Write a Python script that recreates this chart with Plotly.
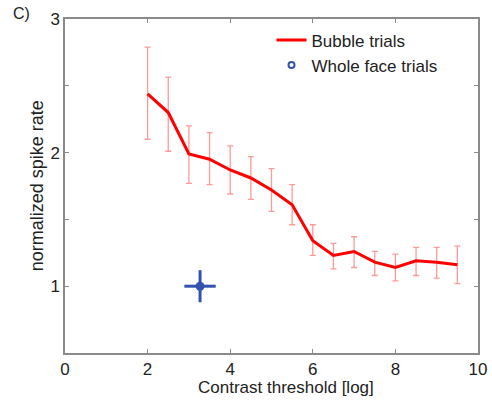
import plotly.graph_objects as go

contrast = [2, 2.5, 3, 3.5, 4, 4.5, 5, 5.5, 6, 6.5, 7, 7.5, 8, 8.5, 9, 9.5]
rate = [2.44, 2.30, 1.99, 1.95, 1.87, 1.81, 1.72, 1.61, 1.34, 1.23, 1.26, 1.18, 1.14, 1.19, 1.18, 1.16]
err_hi = [2.79, 2.565, 2.20, 2.15, 2.05, 1.97, 1.88, 1.76, 1.46, 1.32, 1.37, 1.26, 1.24, 1.29, 1.29, 1.30]
err_lo = [2.10, 2.01, 1.77, 1.76, 1.69, 1.65, 1.56, 1.46, 1.23, 1.13, 1.14, 1.08, 1.04, 1.08, 1.06, 1.02]

face_x = [3.27]
face_y = [1.0]
face_xerr = [0.38]
face_yerr = [0.12]

plus = [h - r for h, r in zip(err_hi, rate)]
minus = [r - l for r, l in zip(rate, err_lo)]

font = "Liberation Sans, Arial, sans-serif"
blue = "#3352b0"
fig = go.Figure()
fig.add_trace(go.Scatter(
    x=contrast, y=rate, mode="markers", marker=dict(size=0.1, color="rgba(0,0,0,0)"),
    error_y=dict(type="data", symmetric=False, array=plus, arrayminus=minus,
                 color="#ff9a9a", thickness=1.3, width=3),
    showlegend=False, hoverinfo="skip"))
fig.add_trace(go.Scatter(
    x=contrast, y=rate, mode="lines", name="Bubble trials",
    line=dict(color="#ff0000", width=3)))
fig.add_trace(go.Scatter(
    x=face_x, y=face_y, mode="markers", name="Whole face trials", showlegend=False,
    marker=dict(color=blue, size=9, symbol="circle"),
    error_x=dict(type="data", array=face_xerr, color=blue, thickness=3, width=0),
    error_y=dict(type="data", array=face_yerr, color=blue, thickness=3, width=0)))
fig.add_trace(go.Scatter(
    x=[None], y=[None], mode="markers", name="Whole face trials",
    marker=dict(color=blue, size=6, symbol="circle-open", line=dict(width=2, color=blue))))

axis_common = dict(showgrid=False, zeroline=False, showline=True, mirror="allticks",
                   linecolor="#8a8a8a", linewidth=1.5, ticks="inside", ticklen=4,
                   tickcolor="#8a8a8a", automargin=False,
                   tickfont=dict(family=font, size=17, color="#222"))
fig.update_xaxes(range=[0, 10], tickvals=[0, 2, 4, 6, 8, 10], ticklabelstandoff=0, **axis_common)
fig.update_yaxes(range=[0.5, 3], tickvals=[0.5, 1, 1.5, 2, 2.5, 3],
                 ticktext=["", "1", "", "2", "", "3"], **axis_common)
title_font = dict(family=font, size=17, color="#222")
fig.update_layout(
    width=492, height=402, margin=dict(l=65, r=14, t=19, b=49),
    plot_bgcolor="white", paper_bgcolor="white",
    legend=dict(x=0.5, y=0.99, xanchor="left", yanchor="top", bgcolor="rgba(0,0,0,0)",
                font=dict(family=font, size=17, color="#222"), tracegroupgap=0, itemwidth=30),
    annotations=[
        dict(text="C)", xref="paper", yref="paper", x=-0.105, y=1.015,
             xanchor="center", yanchor="middle", showarrow=False,
             font=dict(family=font, size=16, color="#222")),
        dict(text="Contrast threshold [log]", xref="paper", yref="paper", x=0.535, y=-0.103,
             xanchor="center", yanchor="middle", showarrow=False, font=title_font),
        dict(text="normalized spike rate", xref="paper", yref="paper", x=-0.067, y=0.5,
             xanchor="center", yanchor="middle", textangle=-90, showarrow=False,
             font=dict(family=font, size=18, color="#222")),
    ])
fig.write_html("out.html")
